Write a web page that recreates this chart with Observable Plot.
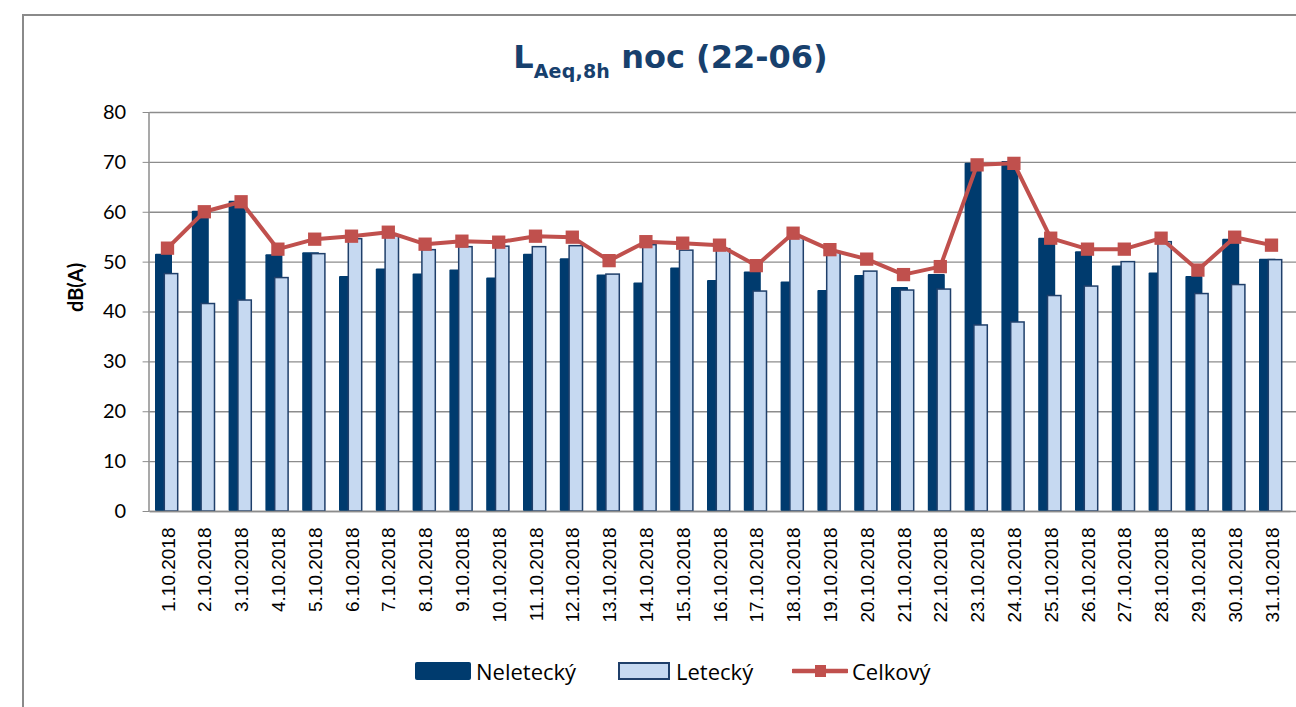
<!DOCTYPE html>
<html>
<head>
<meta charset="utf-8">
<script src="https://cdn.jsdelivr.net/npm/d3@7"></script>
<script src="https://cdn.jsdelivr.net/npm/@observablehq/plot@0.6"></script>
<style>
  html, body { margin: 0; padding: 0; background: #fff; }
  #wrap { position: relative; width: 1296px; height: 707px; overflow: hidden; font-family: Lato, "Open Sans", sans-serif; }
  #frame { position: absolute; left: 22px; top: 14px; width: 1320px; height: 760px; border-left: 2px solid #8a8a8a; border-top: 2px solid #8a8a8a; }
  #title { position: absolute; left: 0; width: 1341px; top: 37px; height: 40px; line-height: 40px; text-align: center; color: #17406D; font-weight: bold; font-size: 32px; font-family: "DejaVu Sans", Verdana, sans-serif; white-space: nowrap; }
  #title sub { font-size: 19px; vertical-align: -10px; line-height: 0; letter-spacing: 0.2px; }
  #chart { position: absolute; left: 0; top: 90px; }
  #legend { position: absolute; top: 656px; left: 0; width: 1296px; height: 30px; font-size: 22px; font-family: "Open Sans", sans-serif; color: #000; }
  .sw { position: absolute; box-sizing: border-box; }
  .lt { position: absolute; top: 0; height: 30px; line-height: 30px; white-space: nowrap; }
</style>
</head>
<body>
<div id="wrap">
  <div id="frame"></div>
  <div id="title">L<sub>Aeq,8h</sub> noc (22-06)</div>
  <div id="chart"></div>
  <div id="legend"></div>
</div>
<script>
const dates = ["1.10.2018","2.10.2018","3.10.2018","4.10.2018","5.10.2018","6.10.2018","7.10.2018","8.10.2018","9.10.2018","10.10.2018","11.10.2018","12.10.2018","13.10.2018","14.10.2018","15.10.2018","16.10.2018","17.10.2018","18.10.2018","19.10.2018","20.10.2018","21.10.2018","22.10.2018","23.10.2018","24.10.2018","25.10.2018","26.10.2018","27.10.2018","28.10.2018","29.10.2018","30.10.2018","31.10.2018"];
const neletecky = [51.6,60.2,62.2,51.5,51.9,47.1,48.6,47.6,48.4,46.8,51.6,50.7,47.4,45.8,48.8,46.3,48.0,46.0,44.3,47.3,44.9,47.5,69.8,70.2,54.8,52.1,49.2,47.8,47.1,54.6,50.6];
const letecky = [47.6,41.6,42.3,46.8,51.6,54.6,55.2,52.4,53.0,53.1,53.0,53.2,47.5,53.4,52.3,52.6,44.1,55.0,52.0,48.1,44.3,44.5,37.3,37.9,43.2,45.1,50.0,54.0,43.6,45.4,50.4];
const celkovy = [52.8,60.1,62.1,52.6,54.6,55.2,56.0,53.6,54.2,54.0,55.2,55.0,50.3,54.1,53.8,53.4,49.3,55.8,52.5,50.6,47.5,49.1,69.5,69.8,54.8,52.6,52.6,54.8,48.4,55.0,53.4];
const yTicks = [0,10,20,30,40,50,60,70,80];
const seriesNames = ["Neletecký","Letecký","Celkový"];

const rows = dates.map((d, i) => ({date: d, nel: neletecky[i], let: letecky[i], cel: celkovy[i]}));

const darkBlue = "#003B6E";
const lightBlue = "#C6D9F1";
const edge = "#1F3F6A";
const red = "#C0504D";
const grid = "#8c8c8c";

const chart = Plot.plot({
  width: 1296,
  height: 550,
  marginLeft: 149.6,
  marginRight: 5.6,
  marginTop: 22,
  marginBottom: 129,
  style: {background: "transparent", overflow: "visible"},
  x: {type: "band", domain: dates, padding: 0, round: false, label: null},
  y: {domain: [0, 80], label: null},
  marks: [
    Plot.ruleY(yTicks, {stroke: grid, strokeWidth: 1.3, insetRight: -6}),
    Plot.axisY({ticks: yTicks, tickSize: 7, tickPadding: 17, stroke: grid, fontSize: 20, fontFamily: "Lato, sans-serif", fill: "#000", label: null}),
    Plot.text(["dB(A)"], {frameAnchor: "left", dx: -74, rotate: -90, fontSize: 20, fontWeight: "bold", fontFamily: "Lato, sans-serif", fill: "#000"}),
    Plot.axisX({tickSize: 0, tickRotate: -90, tickPadding: 16, fontSize: 19, fontFamily: "Liberation Sans, Arial, sans-serif", fill: "#000", label: null}),
    Plot.barY(rows, {x: "date", y: "nel", fill: darkBlue, insetLeft: 5.4, insetRight: 14.4, rx: 1}),
    Plot.barY(rows, {x: "date", y: "let", fill: lightBlue, stroke: edge, strokeWidth: 1.5, insetLeft: 14.7, insetRight: 8.7}),
    Plot.ruleY([0], {stroke: grid, strokeWidth: 1.5}),
    Plot.lineY(rows, {x: "date", y: "cel", stroke: red, strokeWidth: 4, dx: -1}),
    Plot.dot(rows, {x: "date", y: "cel", symbol: "square", r: 7.5, fill: red, dx: -1})
  ]
});
document.getElementById("chart").appendChild(chart);

// y axis line
const svg = d3.select(chart);
svg.append("line")
  .attr("x1", 149).attr("x2", 149).attr("y1", 22).attr("y2", 421)
  .attr("stroke", grid).attr("stroke-width", 1.5);

// legend
const legend = document.getElementById("legend");
const items = [
  {name: seriesNames[0], left: 415, w: 56, text: 476, kind: "dark"},
  {name: seriesNames[1], left: 618, w: 52, text: 676, kind: "light"},
  {name: seriesNames[2], left: 792, w: 56, text: 852, kind: "line"}
];
for (const it of items) {
  let sw;
  if (it.kind === "line") {
    sw = document.createElementNS("http://www.w3.org/2000/svg", "svg");
    sw.setAttribute("width", it.w); sw.setAttribute("height", 20);
    sw.style.position = "absolute";
    sw.style.left = it.left + "px";
    sw.style.top = "5px";
    sw.innerHTML = `<line x1="1" x2="${it.w - 1}" y1="10" y2="10" stroke="${red}" stroke-width="4.5" stroke-linecap="round"/><rect x="${it.w/2 - 5}" y="4" width="11" height="12" fill="${red}"/>`;
  } else {
    sw = document.createElement("div");
    sw.className = "sw";
    sw.style.left = it.left + "px";
    sw.style.top = "6px";
    sw.style.width = it.w + "px";
    sw.style.height = "18px";
    if (it.kind === "dark") { sw.style.background = darkBlue; sw.style.borderRadius = "2px"; }
    else { sw.style.background = lightBlue; sw.style.border = "2px solid " + edge; }
  }
  legend.appendChild(sw);
  const t = document.createElement("div");
  t.className = "lt";
  t.style.left = it.text + "px";
  t.textContent = it.name;
  legend.appendChild(t);
}
</script>
</body>
</html>
